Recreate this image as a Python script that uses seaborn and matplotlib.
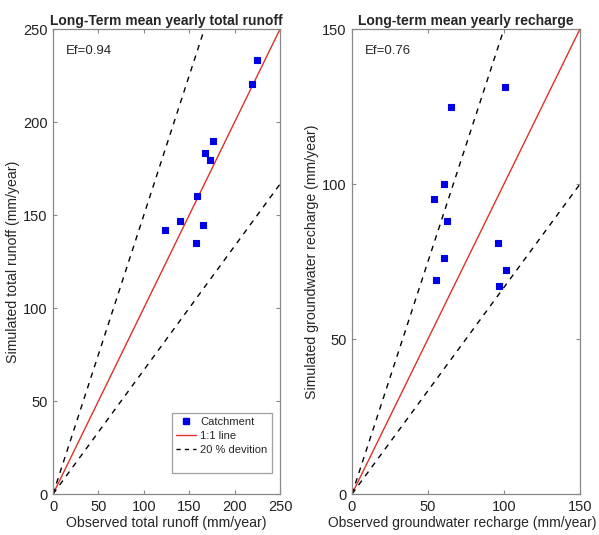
import numpy as np
import pandas as pd
import seaborn as sns
from matplotlib import pyplot as plt
from matplotlib.lines import Line2D

# Long-term mean yearly total runoff (mm/year)
runoff_obs = [224.4, 219.0, 176.2, 167.4, 173.2, 158.6, 139.3, 165.2, 122.8, 157.5]
runoff_sim = [233.6, 220.7, 189.7, 183.3, 179.8, 160.4, 146.6, 144.9, 141.9, 134.9]
runoff_ef = "Ef=0.94"

# Long-term mean yearly groundwater recharge (mm/year)
recharge_obs = [100.7, 65.1, 60.3, 53.9, 62.7, 96.1, 60.7, 101.1, 55.3, 96.7]
recharge_sim = [131.4, 124.8, 100.0, 95.1, 88.2, 80.9, 76.2, 72.3, 68.9, 67.1]
recharge_ef = "Ef=0.76"

sns.set_style("ticks")
plt.rcParams['font.family'] = ['Liberation Sans', 'DejaVu Sans']

fig = plt.figure(figsize=(5.99, 5.35), dpi=100)
ax1 = fig.add_axes([0.0885, 0.0766, 0.379, 0.869])
ax2 = fig.add_axes([0.5876, 0.0766, 0.3806, 0.869])


def draw_panel(ax, obs, sim, lim, step, title, ef, xlabel, ylabel):
    df = pd.DataFrame({'obs': obs, 'sim': sim})
    edge = np.array([0, lim])
    lines = pd.DataFrame({'x': edge, 'one': edge, 'up': edge * 1.5, 'low': edge / 1.5})
    sns.lineplot(data=lines, x='x', y='one', ax=ax, color='#e0302a', linewidth=1.0)
    sns.lineplot(data=lines, x='x', y='up', ax=ax, color='black', linewidth=1.0, linestyle=(0, (4, 4)))
    sns.lineplot(data=lines, x='x', y='low', ax=ax, color='black', linewidth=1.0, linestyle=(0, (4, 4)))
    sns.scatterplot(data=df, x='obs', y='sim', ax=ax, color='#0000e6', marker='s', s=24,
                    edgecolor='#0000e6', linewidth=0.8, zorder=5)
    ax.set_xlim(0, lim)
    ax.set_ylim(0, lim)
    ticks = np.arange(0, lim + 1, step)
    ax.set_xticks(ticks)
    ax.set_yticks(ticks)
    ax.tick_params(direction='in', length=3, top=True, right=True, labelsize=10.5,
                   color='#888888', labelcolor='#222222', pad=4)
    for s in ax.spines.values():
        s.set_color('#888888')
        s.set_linewidth(0.9)
    ax.set_title(title, fontsize=10, fontweight='bold', pad=3)
    ax.set_xlabel(xlabel, fontsize=10.2, labelpad=2)
    ax.set_ylabel(ylabel, fontsize=10.2, labelpad=2)
    ax.text(0.055, 0.965, ef, transform=ax.transAxes, fontsize=9.5, va='top', ha='left')


draw_panel(ax1, runoff_obs, runoff_sim, 250, 50, 'Long-Term mean yearly total runoff',
           runoff_ef, 'Observed total runoff (mm/year)', 'Simulated total runoff (mm/year)')
draw_panel(ax2, recharge_obs, recharge_sim, 150, 50, 'Long-term mean yearly recharge',
           recharge_ef, 'Observed groundwater recharge (mm/year)',
           'Simulated groundwater recharge (mm/year)')
# keep the long x label inside the canvas
ax2.xaxis.label.set_fontsize(10)
ax2.xaxis.set_label_coords(0.485, -0.048)

handles = [
    Line2D([], [], marker='s', color='#0000e6', linestyle='none', markersize=4),
    Line2D([], [], color='#e0302a', linewidth=1.0),
    Line2D([], [], color='black', linewidth=1.0, linestyle=(0, (3, 3))),
    Line2D([], [], linestyle='none'),
]
labels = ['Catchment', '1:1 line', '20 % devition', ' ']
leg = ax1.legend(handles, labels, loc='lower right', bbox_to_anchor=(0.965, 0.045),
                 fontsize=8, frameon=True, fancybox=False, edgecolor='#888888',
                 handlelength=1.8, handletextpad=0.4, borderpad=0.4, labelspacing=0.35,
                 borderaxespad=0)
leg.get_frame().set_linewidth(0.9)

fig.savefig('out.png', dpi=100)
